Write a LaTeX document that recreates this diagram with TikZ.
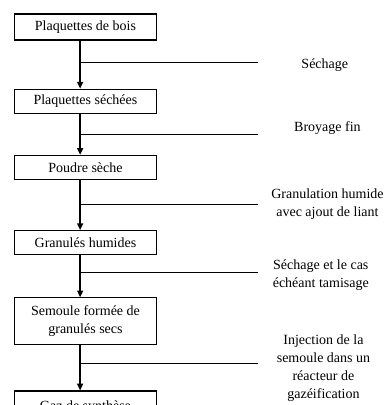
\documentclass[tikz,border=0pt]{standalone}
\usepackage{fontspec}
\setmainfont{Liberation Serif}
\usetikzlibrary{positioning, arrows.meta, calc}
\tikzset{
    >={Triangle[length=5pt,width=4.5pt]}, % small filled heads
    stage/.style={draw, line width=0.9pt, minimum width=107pt, minimum height=18pt, align=center, inner sep=2pt},
    oplabel/.style={align=center, font=\fontsize{10.5}{13.5}\selectfont},
    flow/.style={->, line width=1pt},
    feed/.style={line width=0.6pt}
}

\begin{document}
\begin{tikzpicture}[every node/.style={font=\fontsize{10.5}{13.5}\selectfont}]

        \useasboundingbox (0,0) rectangle (291pt,-303.75pt);

        \node[stage, minimum height=19.5pt] (b1) at (64.1pt,-20.25pt) {Plaquettes de bois};
        \node[stage, below=36pt of b1] (b2) {Plaquettes séchées};
        \node[stage, below=30.75pt of b2] (b3) {Poudre sèche};
        \node[stage, below=37.5pt of b3] (b4) {Granulés humides};
        \node[stage, below=31.5pt of b4, minimum height=35pt] (b5) {Semoule formée de\\granulés secs};
        \node[stage, below=34pt of b5, minimum height=24pt] (b6) {Gaz de synthèse};

        \draw[flow] ([xshift=-4pt]b1.south) -- ([xshift=-4pt]b2.north);
        \draw[flow] ([xshift=-4pt]b2.south) -- ([xshift=-4pt]b3.north);
        \draw[flow] ([xshift=-4pt]b3.south) -- ([xshift=-4pt]b4.north);
        \draw[flow] ([xshift=-4pt]b4.south) -- ([xshift=-4pt]b5.north);
        \draw[flow] ([xshift=-4pt]b5.south) -- ([xshift=-4pt]b6.north);

        \coordinate (j1) at ($([xshift=-4pt]b1.south)!0.46!([xshift=-4pt]b2.north)$);
        \coordinate (j2) at ($([xshift=-4pt]b2.south)!0.5!([xshift=-4pt]b3.north)$);
        \coordinate (j3) at ($([xshift=-4pt]b3.south)!0.48!([xshift=-4pt]b4.north)$);
        \coordinate (j4) at ($([xshift=-4pt]b4.south)!0.4!([xshift=-4pt]b5.north)$);
        \coordinate (j5) at ($([xshift=-4pt]b5.south)!0.4!([xshift=-4pt]b6.north)$);
        \coordinate (e1) at ($(j1)+(133.5pt,0)$);
        \coordinate (e2) at ($(j2)+(133.5pt,0)$);
        \coordinate (e3) at ($(j3)+(133.5pt,0)$);
        \coordinate (e4) at ($(j4)+(133.5pt,0)$);
        \coordinate (e5) at ($(j5)+(133.5pt,0)$);

        \draw[feed] (j1) -- (e1);
        \draw[feed] (j2) -- (e2);
        \draw[feed] (j3) -- (e3);
        \draw[feed] (j4) -- (e4);
        \draw[feed] (j5) -- (e5);

        \node[oplabel, xshift=50pt, yshift=-2pt] (l1) at (e1) {Séchage};
        \node[oplabel, xshift=52pt, yshift=4.5pt] (l2) at (e2) {Broyage fin};
        \node[oplabel, xshift=52pt] (l3) at (e3) {Granulation humide\\avec ajout de liant};
        \node[oplabel, xshift=47pt, yshift=-2.5pt] (l4) at (e4) {Séchage et le cas\\échéant tamisage};
        \node[oplabel, xshift=49pt, yshift=-3.4pt] (l5) at (e5) {Injection de la\\semoule dans un\\réacteur de\\gazéification};

    \end{tikzpicture}
\end{document}
